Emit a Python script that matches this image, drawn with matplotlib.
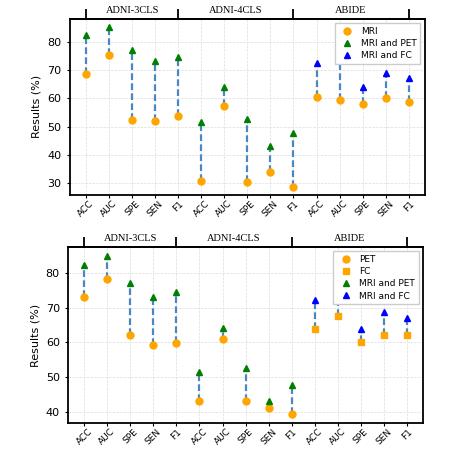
import numpy as np
import matplotlib
matplotlib.use("Agg")
import matplotlib.pyplot as plt

# --- data ---
metrics = ["ACC", "AUC", "SPE", "SEN", "F1"]
groups = ["ADNI-3CLS", "ADNI-4CLS", "ABIDE"]
tick_labels = metrics * 3

# top panel: MRI only vs. fused
mri = [68.5, 75.3, 52.3, 51.9, 53.6,
       30.9, 57.3, 30.5, 34.0, 28.6,
       60.6, 59.4, 57.9, 60.1, 58.7]
# fused results (MRI and PET for ADNI, MRI and FC for ABIDE)
fused = [82.4, 85.1, 77.1, 73.0, 74.5,
         51.5, 64.1, 52.5, 43.1, 47.7,
         72.3, 75.2, 64.0, 68.8, 67.1]
# bottom panel: PET only (ADNI) and FC only (ABIDE)
pet = [73.0, 78.3, 62.0, 59.2, 59.7,
       43.1, 61.1, 43.0, 41.1, 39.2]
fc = [64.0, 67.7, 60.1, 62.0, 62.0]

x = np.arange(len(tick_labels))
n_adni = 10
line_col = "#4a86c0"
ms = 5


def style_axes(ax, ylim):
    ax.set_xlim(-0.7, 14.7)
    ax.set_ylim(*ylim)
    ax.set_xticks(x)
    ax.set_xticklabels(tick_labels, rotation=45, fontsize=6.5)
    ax.tick_params(axis="x", pad=1, length=2)
    ax.tick_params(axis="y", labelsize=8, length=2.5)
    ax.set_ylabel("Results (%)", fontsize=8)
    ax.grid(True, color="#dcdcdc", linestyle="--", linewidth=0.5)
    ax.set_axisbelow(True)
    for sp in ax.spines.values():
        sp.set_linewidth(1.3)
    sec = ax.secondary_xaxis("top")
    sec.set_xticks([0, 4, 9, 14])
    sec.set_xticklabels([])
    sec.tick_params(axis="x", which="major", length=7, width=1.3, direction="out")
    sec.set_xticks([2, 6.5, 11.5], labels=groups, minor=True)
    sec.tick_params(axis="x", which="minor", length=0, pad=3)
    for lbl in sec.get_xticklabels(minor=True):
        lbl.set_fontfamily("Liberation Serif")
        lbl.set_fontsize(7.5)
    sec.spines["top"].set_linewidth(1.3)


def add_legend(ax):
    ax.legend(loc="upper right", fontsize=6.5, framealpha=1, borderpad=0.4,
              handletextpad=0.5, labelspacing=0.35, fancybox=False,
              edgecolor="#cccccc")


fig = plt.figure(figsize=(4.51, 4.49), dpi=100)

# --- top panel ---
ax1 = fig.add_axes([0.155, 0.566, 0.787, 0.392])
ax1.vlines(x, mri, fused, colors=line_col, linestyles=(0, (3, 1.5)),
           linewidth=1.6, zorder=2)
ax1.plot(x, mri, "o", color="orange", markersize=ms, zorder=3, label="MRI")
ax1.plot(x[:n_adni], fused[:n_adni], "^", color="green", markersize=ms,
         zorder=3, label="MRI and PET")
ax1.plot(x[n_adni:], fused[n_adni:], "^", color="blue", markersize=ms,
         zorder=3, label="MRI and FC")
style_axes(ax1, (25.9, 88.0))
add_legend(ax1)

# --- bottom panel ---
ax2 = fig.add_axes([0.151, 0.058, 0.787, 0.392])
lower = pet + fc
ax2.vlines(x, lower, fused, colors=line_col, linestyles=(0, (3, 1.5)),
           linewidth=1.6, zorder=2)
ax2.plot(x[:n_adni], pet, "o", color="orange", markersize=ms, zorder=3, label="PET")
ax2.plot(x[n_adni:], fc, "s", color="orange", markersize=ms, zorder=3, label="FC")
ax2.plot(x[:n_adni], fused[:n_adni], "^", color="green", markersize=ms,
         zorder=3, label="MRI and PET")
ax2.plot(x[n_adni:], fused[n_adni:], "^", color="blue", markersize=ms,
         zorder=3, label="MRI and FC")
style_axes(ax2, (36.7, 87.6))
add_legend(ax2)

fig.savefig("out.png", dpi=100)
